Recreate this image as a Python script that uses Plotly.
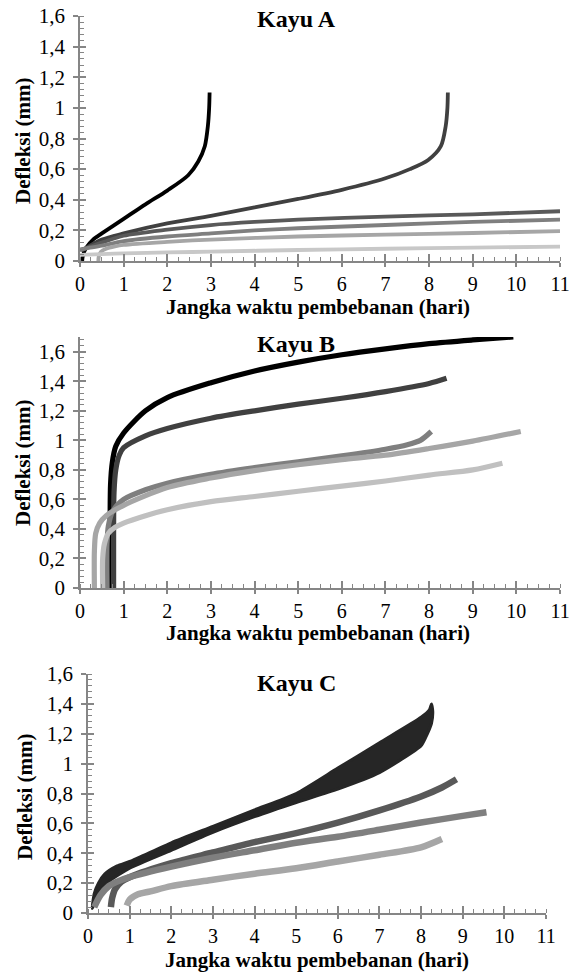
import plotly.graph_objects as go

# ---------------- data ----------------
x_ticks = [0, 1, 2, 3, 4, 5, 6, 7, 8, 9, 10, 11]
x_tick_labels = ["0", "1", "2", "3", "4", "5", "6", "7", "8", "9", "10", "11"]
y_ticks = [0, 0.2, 0.4, 0.6, 0.8, 1.0, 1.2, 1.4, 1.6]
y_tick_labels = ["0", "0,2", "0,4", "0,6", "0,8", "1", "1,2", "1,4", "1,6"]

panel_titles = ["Kayu A", "Kayu B", "Kayu C"]
x_title = "Jangka waktu pembebanan (hari)"
y_title = "Defleksi (mm)"

# Kayu A
a1_x = [0.05, 0.07, 0.15, 0.3, 0.5, 1.0, 1.5, 2.0, 2.48, 2.71, 2.86, 2.93, 2.96, 2.97]
a1_y = [0.0, 0.04, 0.09, 0.14, 0.18, 0.275, 0.37, 0.46, 0.56, 0.65, 0.75, 0.88, 1.0, 1.1]
a2_x = [0.05, 0.5, 1, 2, 3, 4, 5, 6, 7, 7.56, 7.98, 8.27, 8.38, 8.42, 8.43]
a2_y = [0.07, 0.14, 0.18, 0.245, 0.295, 0.35, 0.405, 0.465, 0.54, 0.60, 0.66, 0.75, 0.88, 1.0, 1.1]
a3_x = [0.0, 0.2, 0.5, 1, 2, 3, 4, 5, 7, 9, 11]
a3_y = [0.07, 0.09, 0.12, 0.165, 0.205, 0.235, 0.255, 0.27, 0.29, 0.305, 0.325]
a4_x = [0.0, 0.2, 0.5, 1, 2, 3, 4, 5, 7, 9, 11]
a4_y = [0.075, 0.085, 0.10, 0.13, 0.16, 0.18, 0.20, 0.214, 0.235, 0.255, 0.27]
a5_x = [0.42, 0.43, 0.48, 0.6, 0.8, 1, 2, 3, 5, 7, 9, 11]
a5_y = [0.0, 0.03, 0.06, 0.08, 0.095, 0.105, 0.125, 0.14, 0.16, 0.172, 0.183, 0.195]
a6_x = [0, 0.5, 1, 2, 3, 5, 7, 9, 11]
a6_y = [0.04, 0.045, 0.05, 0.056, 0.061, 0.072, 0.08, 0.087, 0.094]

# Kayu B
b1_x = [0.69, 0.69, 0.70, 0.74, 0.82, 1.0, 1.5, 2, 3, 4, 5, 6, 7, 8, 9, 9.93]
b1_y = [0.0, 0.4, 0.7, 0.85, 0.96, 1.05, 1.2, 1.29, 1.39, 1.47, 1.53, 1.58, 1.62, 1.655, 1.68, 1.70]
b2_x = [0.77, 0.77, 0.78, 0.82, 0.9, 1.0, 1.5, 2, 3, 4, 5, 6, 7, 8, 8.4]
b2_y = [0.0, 0.4, 0.65, 0.8, 0.9, 0.95, 1.03, 1.08, 1.15, 1.20, 1.245, 1.285, 1.33, 1.385, 1.42]
b3_x = [0.62, 0.62, 0.65, 0.75, 1.0, 1.5, 2, 3, 4, 5, 6, 7, 7.5, 7.8, 8.05]
b3_y = [0.0, 0.3, 0.42, 0.52, 0.6, 0.665, 0.71, 0.77, 0.815, 0.855, 0.895, 0.94, 0.97, 1.0, 1.06]
b4_x = [0.33, 0.33, 0.36, 0.45, 0.6, 1, 2, 3, 4, 5, 6, 7, 8, 9, 10.1]
b4_y = [0.0, 0.25, 0.37, 0.44, 0.49, 0.56, 0.68, 0.745, 0.795, 0.835, 0.87, 0.9, 0.945, 0.995, 1.06]
b5_x = [0.52, 0.52, 0.56, 0.65, 0.8, 1, 1.5, 2, 3, 4, 5, 6, 7, 8, 9, 9.68]
b5_y = [0.0, 0.2, 0.3, 0.37, 0.41, 0.44, 0.49, 0.53, 0.585, 0.62, 0.655, 0.69, 0.725, 0.765, 0.80, 0.845]

# Kayu C  (black series traced out and back: it forms a band)
c1_x = [0.1, 0.15, 0.25, 0.4, 0.7, 1, 2, 3, 4, 5, 6, 7, 8, 8.2, 8.25,
        8.28, 8.25, 8.1, 8, 7, 6, 5, 4, 3, 2, 1, 0.5, 0.25, 0.15, 0.1]
c1_y = [0.03, 0.13, 0.2, 0.26, 0.315, 0.345, 0.47, 0.58, 0.69, 0.80, 0.97, 1.14, 1.31, 1.36, 1.40,
        1.35, 1.27, 1.17, 1.12, 0.94, 0.83, 0.74, 0.645, 0.54, 0.42, 0.30, 0.21, 0.13, 0.06, 0.03]
c2_x = [0.55, 0.58, 0.65, 0.8, 1, 2, 3, 4, 5, 6, 7, 8, 8.5, 8.85]
c2_y = [0.04, 0.1, 0.16, 0.21, 0.24, 0.334, 0.405, 0.475, 0.535, 0.605, 0.687, 0.78, 0.84, 0.895]
c3_x = [0.15, 0.3, 0.5, 0.7, 1, 2, 3, 4, 5, 6, 7, 8, 9, 9.57]
c3_y = [0.04, 0.12, 0.18, 0.21, 0.24, 0.31, 0.37, 0.42, 0.47, 0.51, 0.557, 0.606, 0.65, 0.675]
c4_x = [0.93, 1.0, 1.2, 1.5, 2, 3, 4, 5, 6, 7, 8, 8.5]
c4_y = [0.05, 0.09, 0.125, 0.145, 0.18, 0.223, 0.263, 0.30, 0.345, 0.39, 0.44, 0.495]

panel_a = [(a1_x, a1_y, "#000000"), (a2_x, a2_y, "#404040"), (a3_x, a3_y, "#595959"),
           (a4_x, a4_y, "#7f7f7f"), (a5_x, a5_y, "#a6a6a6"), (a6_x, a6_y, "#c8c8c8")]
panel_b = [(b1_x, b1_y, "#000000"), (b2_x, b2_y, "#404040"), (b3_x, b3_y, "#7f7f7f"),
           (b4_x, b4_y, "#a6a6a6"), (b5_x, b5_y, "#c0c0c0")]
panel_c_lines = [(c2_x, c2_y, "#595959"), (c3_x, c3_y, "#7f7f7f"), (c4_x, c4_y, "#a6a6a6")]

# ---------------- layout (pixel geometry) ----------------
W, H = 569, 972
def px(x):
    return x / W
def py(y):
    return 1 - y / H

# panel geometry: (left, right, y_of_zero, y_of_top, ymax)
geo = [
    (80, 560, 261, 16, 1.6),
    (80, 560, 588, 337, 1.7),
    (88, 546, 913, 674, 1.6),
]

FONT = '"Liberation Serif", "Times New Roman", Times, serif'
AX = "#868686"

fig = go.Figure()

def add_series(xs, ys, color, k, width=4.0):
    fig.add_trace(go.Scatter(
        x=xs, y=ys, mode="lines", line=dict(color=color, width=width, shape="spline", smoothing=0.8),
        xaxis="x" + ("" if k == 1 else str(k)), yaxis="y" + ("" if k == 1 else str(k)),
        showlegend=False, hoverinfo="skip"))

for xs, ys, c in panel_a:
    add_series(xs, ys, c, 1, 3.8)
for xs, ys, c in panel_b:
    add_series(xs, ys, c, 2, 5.2)
fig.add_trace(go.Scatter(x=c1_x, y=c1_y, mode="lines", fill="toself", fillcolor="#262626",
                         line=dict(color="#262626", width=3, shape="spline", smoothing=0.6),
                         xaxis="x3", yaxis="y3", showlegend=False, hoverinfo="skip"))
for xs, ys, c in panel_c_lines:
    add_series(xs, ys, c, 3, 6.5)

layout = dict(width=W, height=H, margin=dict(l=0, r=0, t=0, b=0, autoexpand=False),
              paper_bgcolor="white", plot_bgcolor="white", showlegend=False,
              font=dict(family=FONT, color="black"))

annotations = []
for i, (l, r, y0, yt, ymax) in enumerate(geo):
    k = i + 1
    s = "" if k == 1 else str(k)
    ov = str(k + 3)
    xdom = [px(l), px(r)]
    ydom = [py(y0), py(yt)]
    layout["xaxis" + s] = dict(
        domain=xdom, anchor="y" + s, range=[0, 11], tickvals=x_ticks, ticktext=x_tick_labels,
        ticks="outside", ticklen=4, tickwidth=1.5, tickcolor=AX, showline=True, linecolor=AX, linewidth=1.5,
        showgrid=False, zeroline=False, tickfont=dict(size=20, family=FONT, color="black"),
        ticklabeloverflow="allow",
        minor=dict(dtick=0.25, ticks="inside", ticklen=4, tickwidth=1, tickcolor=AX, showgrid=False),
        fixedrange=True)
    layout["yaxis" + s] = dict(
        domain=ydom, anchor="x" + s, range=[0, ymax], tickvals=y_ticks, ticktext=y_tick_labels,
        ticks="outside", ticklen=5, tickwidth=1.5, tickcolor=AX, showline=True, linecolor=AX, linewidth=1.5,
        showgrid=False, zeroline=False, tickfont=dict(size=21, family=FONT, color="black"),
        ticklabeloverflow="allow",
        minor=dict(dtick=0.04, ticks="inside", ticklen=4, tickwidth=1, tickcolor=AX, showgrid=False),
        ticklabelstandoff=4, fixedrange=True)
    # overlay axes give the inner half of the major ticks
    layout["xaxis" + ov] = dict(
        overlaying="x" + s, anchor="y" + s, range=[0, 11], tickvals=x_ticks, ticks="inside",
        ticklen=7, tickwidth=1.5, tickcolor=AX, showticklabels=False, showline=False,
        showgrid=False, zeroline=False, fixedrange=True)
    layout["yaxis" + ov] = dict(
        overlaying="y" + s, anchor="x" + s, range=[0, ymax], tickvals=y_ticks, ticks="inside",
        ticklen=6, tickwidth=1.5, tickcolor=AX, showticklabels=False, showline=False,
        showgrid=False, zeroline=False, fixedrange=True)
    fig.add_trace(go.Scatter(x=[None], y=[None], xaxis="x" + ov, yaxis="y" + s,
                             showlegend=False, hoverinfo="skip"))
    fig.add_trace(go.Scatter(x=[None], y=[None], xaxis="x" + s, yaxis="y" + ov,
                             showlegend=False, hoverinfo="skip"))

title_pos = [(296, 19), (296, 344), (296, 683)]
xt_pos = [(318, 307), (318, 633), (317, 960)]
yt_pos = [(23, 141), (23, 463), (25, 797)]
for i in range(3):
    annotations.append(dict(text="<b>" + panel_titles[i] + "</b>", x=px(title_pos[i][0]), y=py(title_pos[i][1]),
                            xref="paper", yref="paper", showarrow=False, xanchor="center", yanchor="middle",
                            font=dict(size=24, family=FONT, color="black")))
    annotations.append(dict(text="<b>" + x_title + "</b>", x=px(xt_pos[i][0]), y=py(xt_pos[i][1]),
                            xref="paper", yref="paper", showarrow=False, xanchor="center", yanchor="middle",
                            font=dict(size=21, family=FONT, color="black")))
    annotations.append(dict(text="<b>" + y_title + "</b>", x=px(yt_pos[i][0]), y=py(yt_pos[i][1]),
                            xref="paper", yref="paper", showarrow=False, xanchor="center", yanchor="middle",
                            textangle=-90, font=dict(size=21, family=FONT, color="black")))
layout["annotations"] = annotations

fig.update_layout(**layout)
fig.write_html("out.html", config={"displayModeBar": False},
               post_script="document.body.style.margin='0';document.body.style.overflow='hidden';")
